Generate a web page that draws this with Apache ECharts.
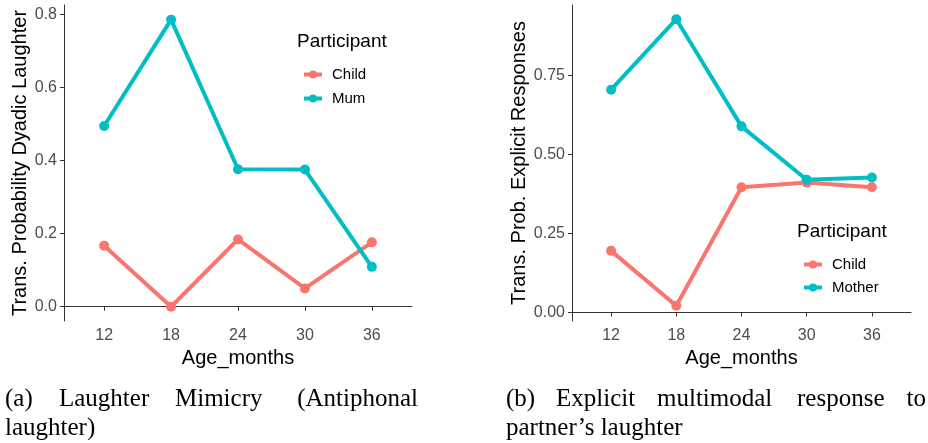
<!DOCTYPE html>
<html><head><meta charset="utf-8">
<script src="https://cdn.jsdelivr.net/npm/echarts@6/dist/echarts.min.js"></script>
<style>html,body{margin:0;padding:0;background:#fff}#c{width:928px;height:443px}</style>
</head><body><div id="c"></div>
<script>
const ages = [12, 18, 24, 30, 36];
const mimicryChild = [0.167, 0.0, 0.184, 0.05, 0.176];
const mimicryMum = [0.494, 0.785, 0.376, 0.375, 0.109];
const explicitChild = [0.195, 0.021, 0.396, 0.411, 0.396];
const explicitMother = [0.705, 0.928, 0.589, 0.42, 0.427];
const leftTicks = [0, 0.2, 0.4, 0.6, 0.8];
const rightTicks = [0, 0.25, 0.5, 0.75];

const RED = '#F8766D', TEAL = '#00BFC4';
const pair = (xs, ys) => xs.map((x, i) => [x, ys[i]]);
const sansFont = 'Liberation Sans, Arial, sans-serif';
const serif = 'Liberation Serif, Times New Roman, serif';

function xAxis(gi) {
  return {
    gridIndex: gi, type: 'value', min: 8.4, max: 39.6,
    name: 'Age_months', nameLocation: 'middle', nameGap: 26,
    nameTextStyle: {fontFamily: sansFont, fontSize: 20, color: '#000'},
    axisLine: {lineStyle: {color: '#333', width: 1}},
    axisTick: {show: true, length: 4, lineStyle: {color: '#333'}, customValues: ages},
    axisLabel: {customValues: ages, fontFamily: sansFont, fontSize: 16, color: '#4D4D4D', margin: 7},
    splitLine: {show: false}
  };
}
function yAxis(gi, name, min, max, ticks, dec, gap) {
  return {
    gridIndex: gi, type: 'value', min: min, max: max,
    name: name, nameLocation: 'middle', nameGap: gap,
    nameTextStyle: {fontFamily: sansFont, fontSize: 20, color: '#000'},
    axisLine: {show: true, lineStyle: {color: '#333', width: 1}},
    axisTick: {show: true, length: 4, lineStyle: {color: '#333'}, customValues: ticks},
    axisLabel: {customValues: ticks, fontFamily: sansFont, fontSize: 16, color: '#4D4D4D', margin: 7,
      formatter: v => Number(v).toFixed(dec)},
    splitLine: {show: false}
  };
}
function series(name, gi, data, color) {
  return {
    type: 'line', name: name, xAxisIndex: gi, yAxisIndex: gi, data: data,
    symbol: 'circle', symbolSize: 10, color: color,
    lineStyle: {width: 4, color: color}, itemStyle: {color: color},
    animation: false, z: name === 'Child' ? 2 : 3
  };
}
function word(text, x, y, align) {
  return {type: 'text', x: x, y: y, style: {text: text, font: '25px ' + serif, fill: '#000',
    align: align || 'left', verticalAlign: 'middle'}};
}
function gtext(text, x, y) {
  return {type: 'text', x: x, y: y, style: {text: text, font: '19px ' + sansFont, fill: '#000',
    align: 'left', verticalAlign: 'middle'}};
}

const chart = echarts.init(document.getElementById('c'), null, {renderer: 'canvas'});
chart.setOption({
  animation: false,
  grid: [
    {left: 64, top: 5, width: 348, height: 316},
    {left: 572, top: 5, width: 339, height: 316}
  ],
  xAxis: [xAxis(0), xAxis(1)],
  yAxis: [
    yAxis(0, 'Trans. Probability Dyadic Laughter', -0.039, 0.825, leftTicks, 1, 34),
    yAxis(1, 'Trans. Prob. Explicit Responses', -0.027, 0.973, rightTicks, 2, 42)
  ],
  legend: [
    {orient: 'vertical', left: 297, top: 62, itemWidth: 18, itemHeight: 10, itemGap: 9,
     data: [{name: 'Child'}, {name: 'Mum'}],
     lineStyle: {width: 4},
     textStyle: {fontFamily: sansFont, fontSize: 15, color: '#000', padding: [0, 0, 0, 5]}},
    {orient: 'vertical', left: 797, top: 252, itemWidth: 18, itemHeight: 10, itemGap: 8,
     data: [{name: 'Child'}, {name: 'Mother'}],
     lineStyle: {width: 4},
     textStyle: {fontFamily: sansFont, fontSize: 15, color: '#000', padding: [0, 0, 0, 5]}}
  ],
  series: [
    series('Child', 0, pair(ages, mimicryChild), RED),
    series('Mum', 0, pair(ages, mimicryMum), TEAL),
    series('Child', 1, pair(ages, explicitChild), RED),
    series('Mother', 1, pair(ages, explicitMother), TEAL)
  ],
  graphic: [
    gtext('Participant', 297, 42),
    gtext('Participant', 797, 232),
    word('(a)', 5, 399), word('Laughter', 59, 399), word('Mimicry', 175, 399),
    word('(Antiphonal', 418, 399, 'right'),
    word('laughter)', 5, 428),
    word('(b)', 506, 399), word('Explicit', 556, 399), word('multimodal', 657, 399),
    word('response', 797, 399), word('to', 926, 399, 'right'),
    word('partner\u2019s laughter', 506, 428)
  ]
});
</script></body></html>
